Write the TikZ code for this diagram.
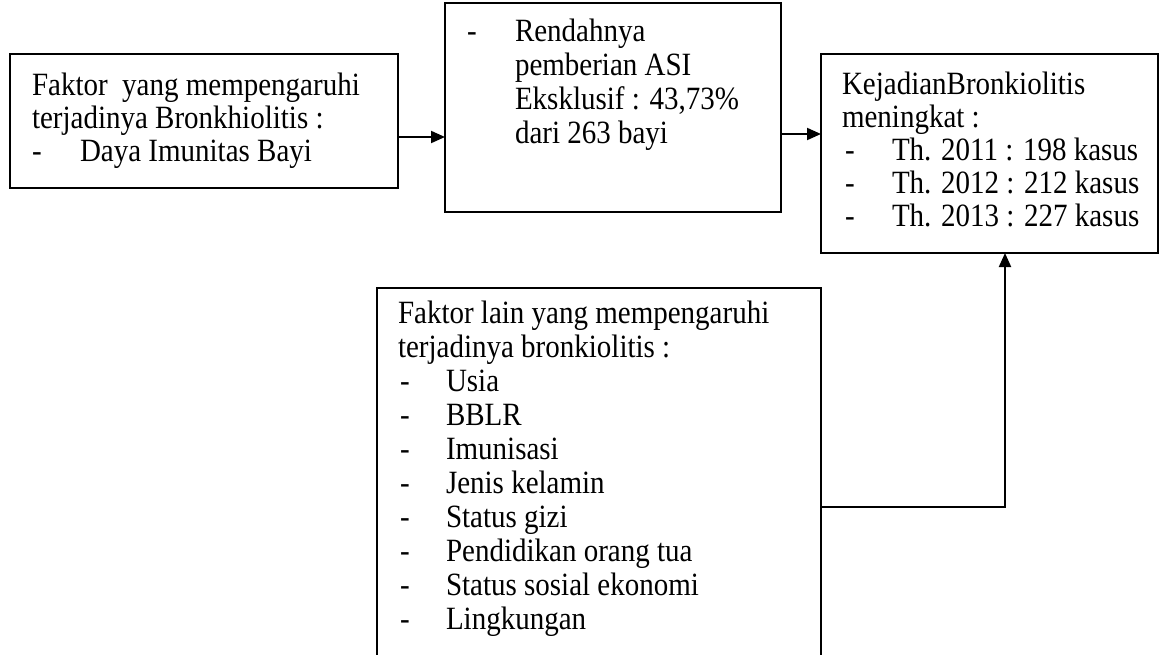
\documentclass[tikz,border=0pt]{standalone}
\usepackage{fontspec}
\setmainfont{Liberation Serif}
\usetikzlibrary{arrows.meta}
\newcommand{\tallstr}[1]{\scalebox{1}[1.12]{#1}}
\begin{document}
\begin{tikzpicture}[x=1pt,y=-1pt,
  box/.style={draw=black,line width=2pt,rectangle,inner sep=0pt,outer sep=0pt},
  txt/.style={anchor=base west,inner sep=0pt,outer sep=0pt,font=\fontsize{29}{33}\selectfont},
  conn/.style={line width=2pt},
  arr/.style={line width=2pt,-{Triangle[length=14pt,width=12pt]}}]
\useasboundingbox (0,0) rectangle (1160,654);
\clip (0,0) rectangle (1160,654);
% boxes
\node[box,minimum width=388pt,minimum height=134pt] (b1) at (204,121) {};
\node[box,minimum width=336pt,minimum height=209pt] (b2) at (613,107.5) {};
\node[box,minimum width=337pt,minimum height=199pt] (b3) at (989.5,153.5) {};
\node[box,minimum width=444pt,minimum height=400pt] (b4) at (599,488) {};
% box 1 text
\node[txt] (t11) at (32,95) {\tallstr{Faktor\ \ yang mempengaruhi}};
\node[txt] (t12) at (32,128) {\tallstr{terjadinya Bronkhiolitis :}};
\node[txt] (t13d) at (32,161) {\tallstr{-}};
\node[txt] (t13) at (80,161) {\tallstr{Daya Imunitas Bayi}};
% box 2 text
\node[txt] (t21d) at (467,41) {\tallstr{-}};
\node[txt] (t21) at (515,41) {\tallstr{Rendahnya}};
\node[txt] (t22) at (515,75) {\tallstr{pemberian ASI}};
\node[txt] (t23) at (515,109) {\tallstr{Eksklusif : 43,73\%}};
\node[txt] (t24) at (515,143) {\tallstr{dari 263 bayi}};
% box 3 text
\node[txt] (t31) at (842,94) {\tallstr{KejadianBronkiolitis}};
\node[txt] (t32) at (842,127) {\tallstr{meningkat :}};
\node[txt] (t33d) at (845,160) {\tallstr{-}};
\node[txt] (t33) at (892,160) {\tallstr{Th. 2011 : 198 kasus}};
\node[txt] (t34d) at (845,193) {\tallstr{-}};
\node[txt] (t34) at (892,193) {\tallstr{Th. 2012 : 212 kasus}};
\node[txt] (t35d) at (845,226) {\tallstr{-}};
\node[txt] (t35) at (892,226) {\tallstr{Th. 2013 : 227 kasus}};
% box 4 text
\node[txt] (t41) at (398,323) {\tallstr{Faktor lain yang mempengaruhi}};
\node[txt] (t42) at (398,357) {\tallstr{terjadinya bronkiolitis :}};
\foreach \i/\t in {0/Usia,1/BBLR,2/Imunisasi,3/Jenis kelamin,4/Status gizi,5/Pendidikan orang tua,6/Status sosial ekonomi,7/Lingkungan}{
  \node[txt] (l\i d) at (400,391+34*\i) {\tallstr{-}};
  \node[txt] (l\i) at (446,391+34*\i) {\tallstr{\t}};
}
% connectors
\coordinate (p1) at ([yshift=-16pt]b1.east);
\draw[arr] (p1) -- (p1 -| b2.west);
\coordinate (p2) at ([yshift=-26.5pt]b2.east);
\draw[arr] (p2) -- (p2 -| b3.west);
\coordinate (p3) at (821,507);
\coordinate (p4) at (1005,507);
\draw[arr] (p3) -- (p4) -- (p4 |- b3.south);
\end{tikzpicture}
\end{document}
